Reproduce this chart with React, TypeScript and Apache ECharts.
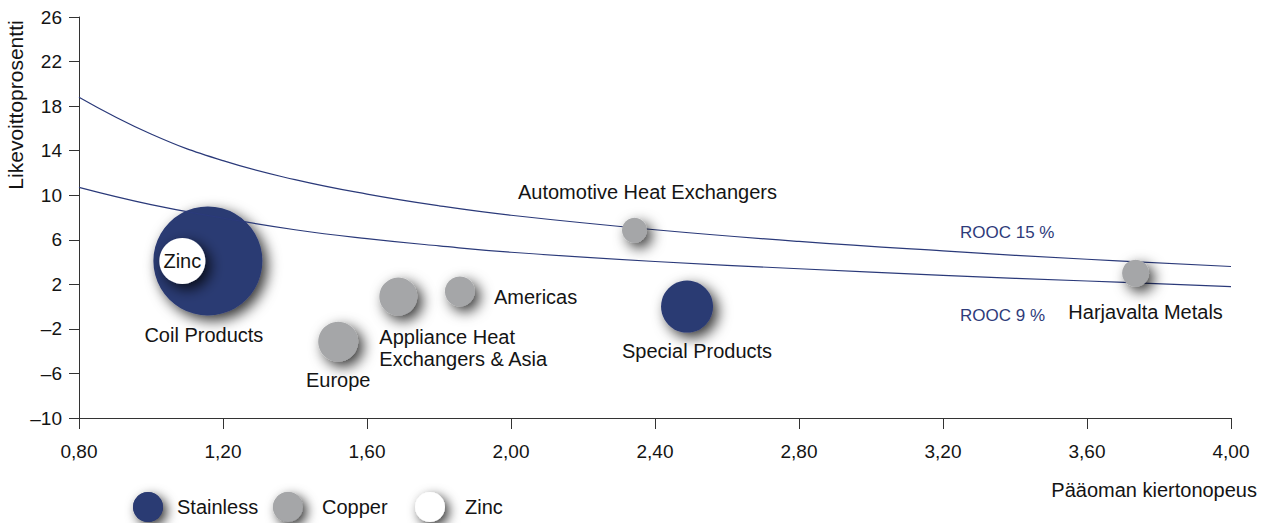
import React, { useEffect, useRef } from "react";
import * as echarts from "echarts";

// ROOC curves
const turnover = [0.8, 1.0, 1.2, 1.4, 1.6, 1.8, 2.0, 2.4, 2.8, 3.2, 3.6, 4.0];
const rooc15 = [18.8, 15.5, 13.1, 11.4, 10.1, 9.05, 8.2, 6.9, 5.85, 5.0, 4.25, 3.6];
const rooc9 = [10.7, 9.15, 7.95, 6.9, 6.1, 5.45, 4.88, 4.05, 3.4, 2.8, 2.3, 1.8];

// Tick labels
const xTicks = [0.8, 1.2, 1.6, 2.0, 2.4, 2.8, 3.2, 3.6, 4.0];
const yTicks = [-10, -6, -2, 2, 6, 10, 14, 18, 22, 26];

// Bubbles: [turnover, margin, bubble size]
const stainlessNames = ["Coil Products", "Special Products"];
const stainlessX = [1.158, 2.489];
const stainlessY = [4.1, 0.0];
const stainlessSize = [109, 52];

const copperNames = [
  "Europe",
  "Appliance Heat\nExchangers & Asia",
  "Americas",
  "Automotive Heat Exchangers",
  "Harjavalta Metals",
];
const copperX = [1.52, 1.687, 1.858, 2.343, 3.735];
const copperY = [-3.15, 0.9, 1.35, 6.85, 3.0];
const copperSize = [40, 38, 30, 25, 27];

const zincNames = ["Zinc"];
const zincX = [1.087];
const zincY = [4.1];
const zincSize = [46];

const legendNames = ["Stainless", "Copper", "Zinc"];

const FONT = '"Liberation Sans", Arial, Helvetica, sans-serif';
const NAVY = "#2b3a73";
const LINE = "#2b3a7a";
const GRAY = "#a5a6a8";
const TEXT = "#141414";
const legendColors = [NAVY, GRAY, "#ffffff"];
const legendLeft = [133, 273, 415];
const legendTextPad = [9, 14, 15];

const labelStyles: Record<string, any> = {
  "Coil Products": { position: "bottom", distance: 10, offset: [-4, 0] },
  "Special Products": { position: "bottom", distance: 8, offset: [10, 0] },
  Europe: { position: "bottom", distance: 8 },
  "Appliance Heat\nExchangers & Asia": {
    position: [0, 48],
    align: "left",
    verticalAlign: "top",
    lineHeight: 22,
  },
  Americas: { position: "right", distance: 19, offset: [0, 5] },
  "Automotive Heat Exchangers": { position: "top", distance: 16, offset: [13, 0] },
  "Harjavalta Metals": { position: "bottom", distance: 15, offset: [10, 0] },
  Zinc: { position: "inside" },
};

const shadow = {
  shadowBlur: 14,
  shadowColor: "rgba(0,0,0,0.8)",
  shadowOffsetX: 5,
  shadowOffsetY: 5,
};

function bubbles(names: string[], xs: number[], ys: number[], sizes: number[]) {
  return names.map((n, i) => ({
    name: n,
    value: [xs[i], ys[i], sizes[i]],
    label: {
      show: true,
      formatter: n,
      color: TEXT,
      fontSize: 20,
      fontFamily: FONT,
      ...labelStyles[n],
    },
  }));
}

export default function App() {
  const ref = useRef<HTMLDivElement>(null);
  useEffect(() => {
    if (!ref.current) return;
    const chart = echarts.init(ref.current, undefined, { renderer: "svg" });
    const option: any = {
      animation: false,
      backgroundColor: "#ffffff",
      grid: { left: 79, right: 33, top: 17, bottom: 105, containLabel: false, outerBoundsMode: "none" },
      xAxis: {
        type: "value",
        min: 0.8,
        max: 4.0,
        axisLine: { show: true, onZero: false, lineStyle: { color: "#333", width: 1 } },
        axisTick: { show: true, length: 11, customValues: xTicks, lineStyle: { color: "#333" } },
        axisLabel: {
          customValues: xTicks,
          formatter: (v: number) => v.toFixed(2).replace(".", ","),
          margin: 24,
          fontSize: 19,
          color: TEXT,
          fontFamily: FONT,
        },
        splitLine: { show: false },
      },
      yAxis: {
        type: "value",
        min: -10,
        max: 26,
        axisLine: { show: true, onZero: false, lineStyle: { color: "#333", width: 1 } },
        axisTick: { show: true, length: 10, customValues: yTicks, lineStyle: { color: "#333" } },
        axisLabel: {
          customValues: yTicks,
          formatter: (v: number) => (v < 0 ? "\u2013" + Math.abs(v) : String(v)),
          margin: 17,
          fontSize: 19,
          color: TEXT,
          fontFamily: FONT,
        },
        splitLine: { show: false },
      },
      legend: legendNames.map((n, i) => ({
        orient: "horizontal",
        top: 492,
        left: legendLeft[i],
        itemWidth: 30,
        itemHeight: 30,
        icon: "circle",
        padding: 0,
        selectedMode: false,
        data: [{ name: n, itemStyle: { color: legendColors[i] } }],
        textStyle: { fontSize: 20, color: TEXT, fontFamily: FONT, padding: [0, 0, 0, legendTextPad[i]] },
      })),
      series: [
        {
          type: "scatter",
          name: "Stainless",
          z: 2,
          symbolSize: (v: number[]) => v[2],
          itemStyle: { color: NAVY, opacity: 1, ...shadow },
          emphasis: { disabled: true },
          data: bubbles(stainlessNames, stainlessX, stainlessY, stainlessSize),
        },
        {
          type: "line",
          name: "ROOC 15 %",
          z: 3,
          smooth: 0.45,
          showSymbol: false,
          symbol: "none",
          lineStyle: { color: LINE, width: 1.2 },
          emphasis: { disabled: true },
          data: turnover.map((x, i) => [x, rooc15[i]]),
        },
        {
          type: "line",
          name: "ROOC 9 %",
          z: 3,
          smooth: 0.45,
          showSymbol: false,
          symbol: "none",
          lineStyle: { color: LINE, width: 1.2 },
          emphasis: { disabled: true },
          data: turnover.map((x, i) => [x, rooc9[i]]),
        },
        {
          type: "scatter",
          name: "Copper",
          z: 4,
          symbolSize: (v: number[]) => v[2],
          itemStyle: { color: GRAY, opacity: 1, ...shadow },
          emphasis: { disabled: true },
          data: bubbles(copperNames, copperX, copperY, copperSize),
        },
        {
          type: "scatter",
          name: "Zinc",
          z: 5,
          symbolSize: (v: number[]) => v[2],
          itemStyle: { color: "#ffffff", opacity: 1, ...shadow },
          emphasis: { disabled: true },
          data: bubbles(zincNames, zincX, zincY, zincSize),
        },
      ],
      graphic: [
        // legend symbols with soft drop shadows, drawn over the legend icons
        ...legendNames.map((n, i) => ({
          type: "circle",
          z: 100,
          silent: true,
          shape: { cx: legendLeft[i] + 15, cy: 507, r: 15 },
          style: {
            fill: legendColors[i],
            shadowBlur: 12,
            shadowColor: "rgba(0,0,0,0.8)",
            shadowOffsetX: 4,
            shadowOffsetY: 4,
          },
        })),
        {
          type: "text",
          x: 15,
          y: 105,
          rotation: Math.PI / 2,
          style: {
            text: "Likevoittoprosentti",
            fontSize: 21,
            fontFamily: FONT,
            fill: TEXT,
            align: "center",
            verticalAlign: "middle",
            textAlign: "center",
            textVerticalAlign: "middle",
          },
        },
        {
          type: "text",
          x: 1257,
          y: 490,
          style: {
            text: "Pääoman kiertonopeus",
            fontSize: 20,
            fontFamily: FONT,
            fill: TEXT,
            align: "right",
            verticalAlign: "middle",
            textAlign: "right",
            textVerticalAlign: "middle",
          },
        },
        {
          type: "text",
          x: 960,
          y: 232,
          style: {
            text: "ROOC 15 %",
            fontSize: 17,
            fontFamily: FONT,
            fill: "#2e3b7a",
            align: "left",
            verticalAlign: "middle",
            textAlign: "left",
            textVerticalAlign: "middle",
          },
        },
        {
          type: "text",
          x: 960,
          y: 315,
          style: {
            text: "ROOC 9 %",
            fontSize: 17,
            fontFamily: FONT,
            fill: "#2e3b7a",
            align: "left",
            verticalAlign: "middle",
            textAlign: "left",
            textVerticalAlign: "middle",
          },
        },
      ],
    };
    chart.setOption(option);
    return () => chart.dispose();
  }, []);
  return (
    <div
      ref={ref}
      style={{ position: "fixed", left: 0, top: 0, width: 1264, height: 523, background: "#fff" }}
    />
  );
}
